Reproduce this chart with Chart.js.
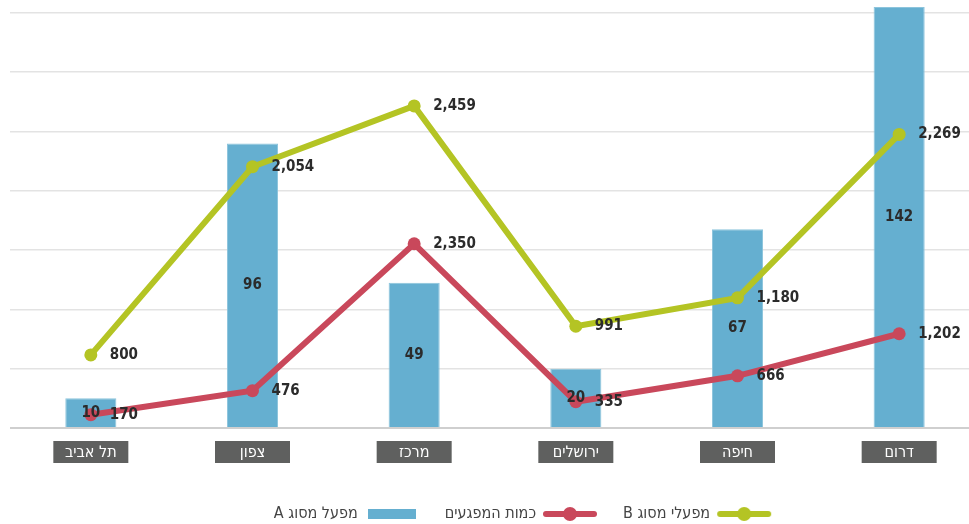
<!DOCTYPE html>
<html>
<head>
<meta charset="utf-8">
<script src="https://cdn.jsdelivr.net/npm/chart.js@4"></script>
<style>
  html, body { margin: 0; padding: 0; background: #fff; overflow: hidden; }
  #wrap { position: relative; width: 980px; height: 524px; }
</style>
</head>
<body>
<div id="wrap"><canvas id="chart" width="980" height="524"></canvas></div>
<script>
const regions = ['תל אביב', 'צפון', 'מרכז', 'ירושלים', 'חיפה', 'דרום'];
const factoriesA = [10, 96, 49, 20, 67, 142];
const hazards = [170, 476, 2350, 335, 666, 1202];
const factoriesB = [800, 2054, 2459, 991, 1180, 2269];
const legendNames = ['מפעלי מסוג B', 'כמות המפגעים', 'מפעל מסוג A'];

const GREEN = '#b4c424';
const RED = '#c9485b';
const BLUE = '#65afd0';
const FONT = "'Liberation Sans Narrow', 'DejaVu Sans Condensed', sans-serif";

// legend markers: thick line with a dot, or a flat box
function lineMarker(color) {
  const c = document.createElement('canvas');
  c.width = 56; c.height = 16;
  const ctx = c.getContext('2d');
  ctx.strokeStyle = color;
  ctx.lineWidth = 6;
  ctx.lineCap = 'round';
  ctx.beginPath();
  ctx.moveTo(4, 8); ctx.lineTo(52, 8);
  ctx.stroke();
  ctx.fillStyle = color;
  ctx.beginPath();
  ctx.arc(28, 8, 7, 0, Math.PI * 2);
  ctx.fill();
  return c;
}
function boxMarker(color) {
  const c = document.createElement('canvas');
  c.width = 48; c.height = 10;
  const ctx = c.getContext('2d');
  ctx.fillStyle = color;
  ctx.fillRect(0, 0, 48, 10);
  return c;
}
const markers = [lineMarker(GREEN), lineMarker(RED), boxMarker(BLUE)];

const valueLabels = {
  id: 'valueLabels',
  afterDatasetsDraw(chart) {
    const ctx = chart.ctx;
    ctx.save();
    ctx.font = 'bold 15px ' + FONT;
    ctx.fillStyle = '#2b2b2b';
    ctx.textBaseline = 'middle';
    chart.data.datasets.forEach((ds, di) => {
      const meta = chart.getDatasetMeta(di);
      meta.data.forEach((el, i) => {
        const txt = ds.data[i].toLocaleString('en-US');
        if (ds.type === 'bar') {
          ctx.textAlign = 'center';
          ctx.fillText(txt, el.x, (el.y + el.base) / 2);
        } else {
          ctx.textAlign = 'left';
          ctx.fillText(txt, el.x + 19, el.y);
        }
      });
    });
    ctx.restore();
  }
};

const categoryBoxes = {
  id: 'categoryBoxes',
  afterDraw(chart) {
    const ctx = chart.ctx;
    const xs = chart.scales.x;
    const top = chart.chartArea.bottom + 13;
    ctx.save();
    ctx.font = '16px ' + FONT;
    ctx.textAlign = 'center';
    ctx.textBaseline = 'middle';
    ctx.direction = 'rtl';
    regions.forEach((r, i) => {
      const x = xs.getPixelForValue(i);
      ctx.fillStyle = '#5f605f';
      ctx.fillRect(x - 37.5, top, 75, 22);
      ctx.fillStyle = '#ffffff';
      ctx.fillText(r, x, top + 12);
    });
    ctx.restore();
  }
};

// move the legend row right and down, as in the original
const legendShift = {
  id: 'legendShift',
  afterLayout(chart) {
    const lg = chart.legend;
    lg.left += 27; lg.right += 27;
    lg.top += 8; lg.bottom += 8;
  }
};

new Chart(document.getElementById('chart'), {
  data: {
    labels: regions,
    datasets: [
      {
        type: 'line', label: legendNames[0], data: factoriesB, yAxisID: 'yB', order: 1,
        borderColor: GREEN, backgroundColor: GREEN, borderWidth: 6,
        pointRadius: 6.5, pointBackgroundColor: GREEN, pointBorderWidth: 0
      },
      {
        type: 'line', label: legendNames[1], data: hazards, yAxisID: 'yH', order: 2,
        borderColor: RED, backgroundColor: RED, borderWidth: 6,
        pointRadius: 6.5, pointBackgroundColor: RED, pointBorderWidth: 0
      },
      {
        type: 'bar', label: legendNames[2], data: factoriesA, yAxisID: 'y', order: 3,
        backgroundColor: BLUE, borderColor: '#8cc4dc', borderWidth: 1,
        categoryPercentage: 1, barPercentage: 0.316
      }
    ]
  },
  options: {
    responsive: false,
    animation: false,
    layout: { autoPadding: false, padding: { left: 10, top: 7, right: 0, bottom: 0 } },
    scales: {
      x: {
        grid: { display: false },
        border: { display: false },
        ticks: { display: false },
        afterFit(scale) { scale.height = 43; }
      },
      y: {
        min: 0, max: 142,
        border: { display: false },
        ticks: { display: false, stepSize: 20, includeBounds: false },
        grid: {
          drawTicks: false,
          color: ctx => ctx.tick.value === 0 ? '#cfcfcf' : '#e3e3e3',
          lineWidth: ctx => ctx.tick.value === 0 ? 2 : 1.5
        }
      },
      yH: { display: false, min: 0, max: 5370 },
      yB: { display: false, min: 313, max: 3118 }
    },
    plugins: {
      tooltip: { enabled: false },
      legend: {
        position: 'bottom',
        rtl: true,
        textDirection: 'rtl',
        labels: {
          usePointStyle: true,
          pointStyleWidth: 52,
          font: { family: FONT, size: 16 },
          color: '#444',
          padding: 27,
          generateLabels(chart) {
            return chart.data.datasets.map((ds, i) => ({
              text: ds.label,
              pointStyle: markers[i],
              fontColor: '#444',
              lineWidth: 0,
              datasetIndex: i
            }));
          }
        }
      }
    }
  },
  plugins: [valueLabels, categoryBoxes, legendShift]
});
</script>
</body>
</html>
